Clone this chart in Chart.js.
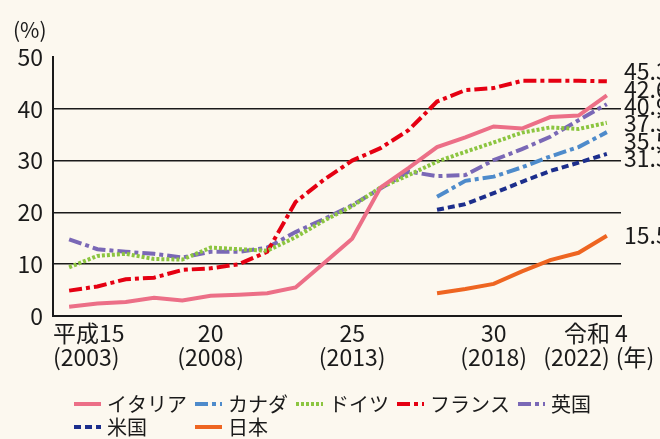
<!DOCTYPE html>
<html><head><meta charset="utf-8">
<script src="https://cdn.jsdelivr.net/npm/chart.js@4/dist/chart.umd.min.js"></script>
<style>html,body{margin:0;padding:0;background:#FCF8EF;}canvas{display:block;}</style>
</head><body>
<canvas id="c" width="660" height="439"></canvas>
<script>
// ---- data (percent, 2003–2022) ----
const years = [2003,2004,2005,2006,2007,2008,2009,2010,2011,2012,2013,2014,2015,2016,2017,2018,2019,2020,2021,2022];
const seriesNames = ['イタリア','カナダ','ドイツ','フランス','英国','米国','日本'];
const italy   = [1.8,2.4,2.7,3.5,3.0,3.9,4.1,4.4,5.5,10.2,14.9,24.8,28.6,32.6,34.5,36.6,36.2,38.4,38.7,42.6];
const canada  = [null,null,null,null,null,null,null,null,null,null,null,null,null,23.0,26.1,26.9,28.7,30.8,32.6,35.5];
const germany = [9.4,11.6,12.0,11.0,10.9,13.2,12.9,12.6,15.2,18.4,21.2,24.8,27.2,29.8,31.7,33.5,35.4,36.4,36.1,37.3];
const france  = [4.9,5.7,7.1,7.4,8.9,9.2,10.0,12.4,22.0,26.3,30.0,32.4,35.9,41.4,43.6,44.0,45.4,45.4,45.4,45.3];
const uk      = [14.8,12.9,12.4,12.0,11.3,12.4,12.4,13.2,16.2,18.7,21.4,24.6,27.9,27.0,27.2,30.1,32.2,34.6,37.8,40.9];
const us      = [null,null,null,null,null,null,null,null,null,null,null,null,null,20.5,21.6,23.7,25.9,28.0,29.6,31.3];
const japan   = [null,null,null,null,null,null,null,null,null,null,null,null,null,4.4,5.2,6.2,8.6,10.8,12.2,15.5];
const endLabels = ['42.6','35.5','37.3','45.3','40.9','31.3','15.5'];
const xTickIndex = [0,5,10,15,19];
const xTickLine1 = ['平成15','20','25','30','令和 4'];
const xTickLine2 = ['(2003)','(2008)','(2013)','(2018)','(2022)'];
const xUnit = '(年)';
const yUnit = '(%)';

const FONT = '"Noto Sans CJK JP", "Noto Sans", sans-serif';
const TXT = '#1a1a1a';
const toXY = arr => arr.map((v,i)=>({x:i, y:v}));

const styles = [
  {c:'#EC6F87', d:[]},
  {c:'#4E8BCB', d:[13,4,4,4]},
  {c:'#8CC540', d:[3,2]},
  {c:'#E50012', d:[13,4,4,4]},
  {c:'#7A68B6', d:[13,4,4,4]},
  {c:'#1C2E8C', d:[7,4]},
  {c:'#EE6521', d:[]}
];
const seriesData = [italy, canada, germany, france, uk, us, japan];

const datasets = seriesData.map((arr,k)=>({
  label: seriesNames[k],
  data: toXY(arr),
  borderColor: styles[k].c,
  backgroundColor: styles[k].c,
  borderDash: styles[k].d,
  borderWidth: 4,
  borderCapStyle: 'butt',
  pointRadius: 0,
  tension: 0,
  spanGaps: false,
  fill: false
}));

const bgPlugin = {
  id:'bg',
  beforeDraw(chart){
    const c = chart.ctx; c.save(); c.fillStyle='#FCF8EF'; c.fillRect(0,0,chart.width,chart.height); c.restore();
  }
};

const textPlugin = {
  id:'texts',
  afterDraw(chart){
    const c = chart.ctx; const xs = chart.scales.x; const ys = chart.scales.y;
    c.save();
    c.fillStyle = TXT;
    // y unit
    c.font = '21px ' + FONT; c.textAlign='left'; c.textBaseline='middle';
    c.fillText(yUnit, 13, 30);
    // x tick labels
    c.font = '23px ' + FONT; c.textBaseline='middle';
    const l1y = 333, l2y = 357;
    xTickIndex.forEach((idx,k)=>{
      const px = xs.getPixelForValue(idx);
      if (k===0){
        c.textAlign='left';
        c.fillText(xTickLine1[k], chart.chartArea.left, l1y);
        c.fillText(xTickLine2[k], chart.chartArea.left, l2y);
      } else if (k===xTickIndex.length-1){
        c.textAlign='center';
        c.fillText(xTickLine1[k], px-11, l1y);
        c.textAlign='right';
        c.fillText(xTickLine2[k], px+3, l2y);
        c.textAlign='left';
        c.fillText(xUnit, px+9, l2y);
      } else {
        c.textAlign='center';
        c.fillText(xTickLine1[k], px, l1y);
        c.fillText(xTickLine2[k], px, l2y);
      }
    });
    // end labels with simple declutter
    const gap = 17.3;
    const items = [];
    seriesData.forEach((arr,k)=>{
      const v = arr[arr.length-1];
      items.push({k, y: ys.getPixelForValue(v)});
    });
    items.sort((a,b)=>a.y-b.y);
    let clusters = items.map(it=>({m:[it], c:it.y}));
    let changed = true;
    while(changed){
      changed=false;
      for(let i=0;i<clusters.length-1;i++){
        const a=clusters[i], b=clusters[i+1];
        const aBot = a.c + (a.m.length-1)/2*gap;
        const bTop = b.c - (b.m.length-1)/2*gap;
        if (bTop - aBot < gap){
          const m = a.m.concat(b.m);
          const c0 = m.reduce((s,it)=>s+it.y,0)/m.length;
          clusters.splice(i,2,{m, c:c0});
          changed=true; break;
        }
      }
    }
    c.font = '23px ' + FONT; c.textAlign='left'; c.textBaseline='middle';
    clusters.forEach(cl=>{
      cl.m.forEach((it,j)=>{
        const y = cl.c + (j-(cl.m.length-1)/2)*gap;
        c.fillText(endLabels[it.k], 624, y);
      });
    });
    // legend
    c.font = '20px ' + FONT; c.textAlign='left'; c.textBaseline='middle';
    const sampleW = 27, perRow = 5;
    const colX = []; let x = 74;
    for (let k=0;k<perRow;k++){ colX.push(x); x += sampleW + 6 + c.measureText(seriesNames[k]).width + 8; }
    const rowY = [404, 427];
    chart.data.datasets.forEach((ds,k)=>{
      const row = Math.floor(k/perRow), col = k%perRow;
      const sx = colX[col], sy = rowY[row];
      c.save();
      c.strokeStyle = ds.borderColor; c.lineWidth = 4; c.lineCap='butt';
      c.setLineDash(ds.borderDash||[]);
      c.beginPath(); c.moveTo(sx, sy); c.lineTo(sx+sampleW, sy); c.stroke();
      c.restore();
      c.fillStyle = TXT;
      c.fillText(ds.label, sx+sampleW+6, sy);
    });
    c.restore();
  }
};

new Chart(document.getElementById('c'), {
  type:'line',
  data:{ datasets },
  options:{
    responsive:false, animation:false, devicePixelRatio:1,
    layout:{ padding:{ top:57, right:39, bottom:123, left:0 } },
    plugins:{ legend:{display:false}, tooltip:{enabled:false}, title:{display:false} },
    scales:{
      x:{ type:'linear', min:-0.57, max:19.5,
          ticks:{display:false}, grid:{display:false, drawTicks:false},
          border:{display:true, color:TXT, width:2},
          afterFit:(s)=>{ s.height = 0; } },
      y:{ min:0, max:50,
          ticks:{ stepSize:10, color:TXT, font:{family:FONT, size:23}, padding:10 },
          grid:{ drawTicks:false, lineWidth:1.5,
                 color:(ctx)=> (ctx.tick && (ctx.tick.value===0 || ctx.tick.value===50)) ? 'rgba(0,0,0,0)' : TXT },
          border:{ display:true, color:TXT, width:2 },
          afterFit:(s)=>{ s.width = 53; } }
    }
  },
  plugins:[bgPlugin, textPlugin]
});
</script>
</body></html>
